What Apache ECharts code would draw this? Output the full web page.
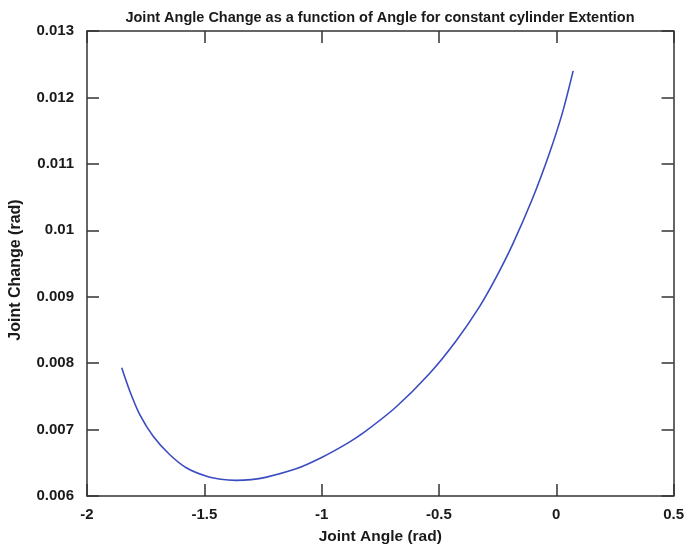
<!DOCTYPE html>
<html>
<head>
<meta charset="utf-8">
<script src="https://cdn.jsdelivr.net/npm/echarts@6/dist/echarts.min.js"></script>
<style>
  html, body { margin: 0; padding: 0; background: #ffffff; }
  #chart { width: 687px; height: 550px; }
</style>
</head>
<body>
<div id="chart"></div>
<script>
// Joint angle (rad) and the resulting joint change (rad)
var jointAngle = [-1.852, -1.817, -1.775, -1.718, -1.648, -1.577, -1.493, -1.43, -1.366, -1.30,
                  -1.239, -1.112, -1.0, -0.887, -0.824, -0.683, -0.541, -0.428, -0.329,
                  -0.258, -0.187, -0.102, -0.031, 0.0255, 0.072];
var jointChange = [0.00793, 0.007574, 0.007225, 0.0069, 0.006625, 0.006426, 0.0063, 0.006252, 0.006235, 0.006246,
                   0.00628, 0.006405, 0.00658, 0.0068, 0.006945, 0.00734, 0.00784, 0.00833, 0.00884,
                   0.00928, 0.00978, 0.01047, 0.01114, 0.01176, 0.0124];

var xTicks = { min: -2, max: 0.5, step: 0.5 };
var yTicks = { min: 0.006, max: 0.013, step: 0.001 };

var titleText = 'Joint Angle Change as a function of Angle for constant cylinder Extention';
var xName = 'Joint Angle (rad)';
var yName = 'Joint Change (rad)';

var points = jointAngle.map(function (x, i) { return [x, jointChange[i]]; });

var textColor = '#1a1a1a';
var lineColor = '#333333';
var fontFamily = '"Liberation Sans", Arial, sans-serif';

function fmtX(v) {
  return String(Math.round(v * 10) / 10);
}
function fmtY(v) {
  return String(Math.round(v * 1000) / 1000);
}

var tickStyle = { inside: true, length: 12, lineStyle: { color: lineColor, width: 1.5 } };
var axisLineStyle = { show: true, onZero: false, lineStyle: { color: lineColor, width: 1.5 } };

var chart = echarts.init(document.getElementById('chart'), null, { renderer: 'canvas' });
chart.setOption({
  backgroundColor: '#ffffff',
  animation: false,
  title: {
    text: titleText,
    left: 375,
    top: 5,
    textAlign: 'center',
    textStyle: { fontFamily: fontFamily, fontSize: 14.5, fontWeight: 'bold', color: textColor }
  },
  grid: { left: 87, right: 10, top: 31, bottom: 53, containLabel: false },
  xAxis: [{
    type: 'value',
    position: 'bottom',
    min: xTicks.min, max: xTicks.max, interval: xTicks.step,
    name: xName,
    nameLocation: 'middle',
    nameGap: 33,
    nameTextStyle: { fontFamily: fontFamily, fontSize: 15.5, fontWeight: 'bold', color: textColor },
    axisLine: axisLineStyle,
    axisTick: tickStyle,
    axisLabel: { margin: 11, formatter: fmtX, fontFamily: fontFamily, fontSize: 15, fontWeight: 'bold', color: textColor },
    splitLine: { show: false }
  }, {
    type: 'value',
    position: 'top',
    min: xTicks.min, max: xTicks.max, interval: xTicks.step,
    axisLine: axisLineStyle,
    axisTick: tickStyle,
    axisLabel: { show: false },
    splitLine: { show: false }
  }],
  yAxis: [{
    type: 'value',
    position: 'left',
    min: yTicks.min, max: yTicks.max, interval: yTicks.step,
    name: yName,
    nameLocation: 'middle',
    nameGap: 63,
    nameTextStyle: { fontFamily: fontFamily, fontSize: 16, fontWeight: 'bold', color: textColor, padding: [0, 13, 0, 0] },
    axisLine: axisLineStyle,
    axisTick: tickStyle,
    axisLabel: { margin: 13, formatter: fmtY, fontFamily: fontFamily, fontSize: 15, fontWeight: 'bold', color: textColor },
    splitLine: { show: false }
  }, {
    type: 'value',
    position: 'right',
    min: yTicks.min, max: yTicks.max, interval: yTicks.step,
    axisLine: axisLineStyle,
    axisTick: tickStyle,
    axisLabel: { show: false },
    splitLine: { show: false }
  }],
  series: [{
    type: 'line',
    xAxisIndex: 0,
    yAxisIndex: 0,
    data: points,
    smooth: 0.3,
    showSymbol: false,
    symbol: 'none',
    lineStyle: { color: '#3b4cc0', width: 1.6 }
  }]
});
</script>
</body>
</html>
